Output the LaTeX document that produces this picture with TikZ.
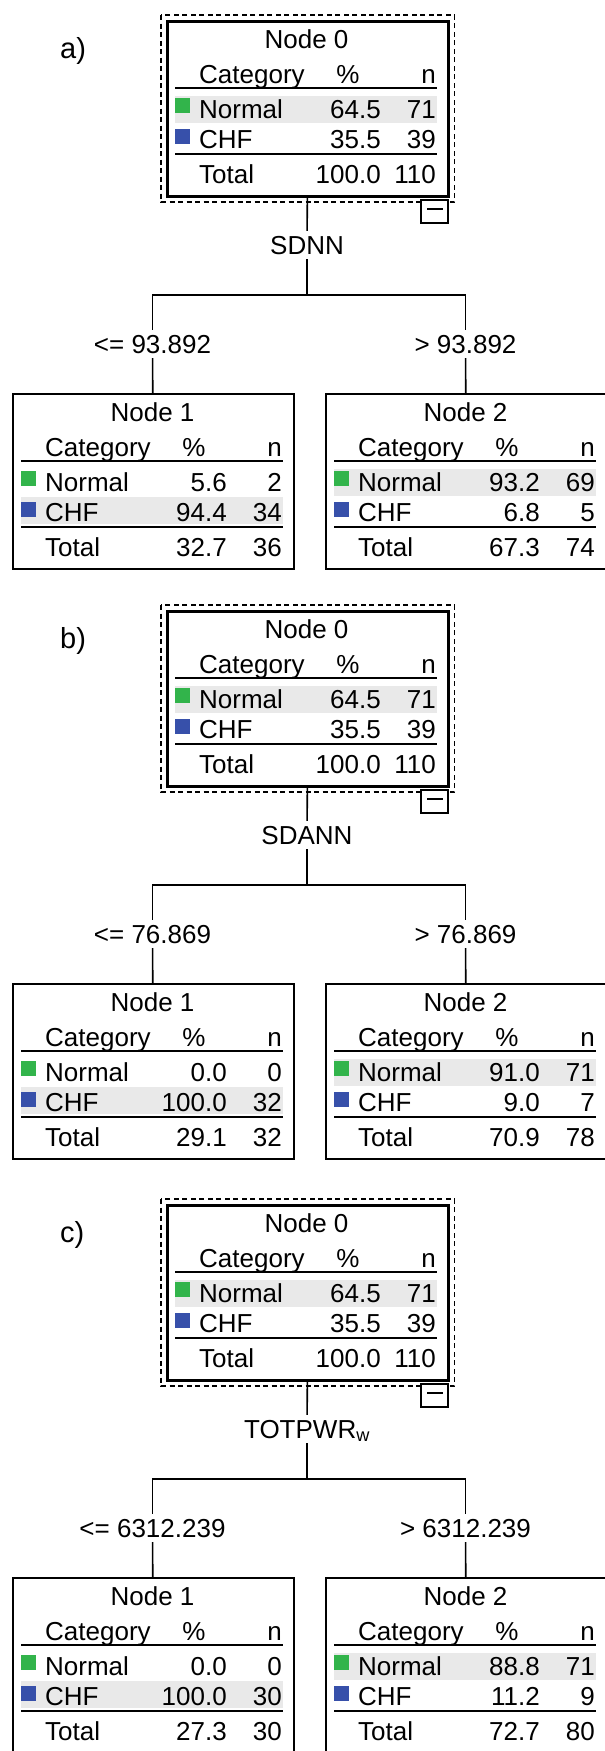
\documentclass[tikz,border=0pt]{standalone}
\usepackage{fontspec}
\setmainfont{Liberation Sans}
\definecolor{verde}{RGB}{50,180,75}
\definecolor{blu}{RGB}{55,80,170}
\definecolor{grigio}{RGB}{233,233,233}

\begin{document}
\begin{tikzpicture}[x=1pt,y=-1pt,
		tx/.style={font=\fontsize{26}{30}\selectfont, inner sep=0pt},
		cella/.style={draw, anchor=north west, minimum width=281pt, minimum height=175pt, inner sep=0pt},
		riga/.style={line width=1.6pt},
		linea/.style={line width=1.6pt},
		soglia/.style={tx, inner xsep=2pt, inner ysep=5pt, text height=18pt, text depth=0pt},
		lettera/.style={font=\fontsize{29}{34}\selectfont, inner sep=0pt, anchor=west}]
		\useasboundingbox (0,0) rectangle (605,1751);

		% Riquadri dei nodi
		\foreach \id/\bx/\by/\lw/\tit/\pN/\nN/\pC/\nC/\pT/\nT/\hb in {
				a0/166/20/3pt/Node 0/64.5/71/35.5/39/100.0/110/76,
				a1/12/393/1.5pt/Node 1/5.6/2/94.4/34/32.7/36/104,
				a2/325/393/1.5pt/Node 2/93.2/69/6.8/5/67.3/74/76,
				b0/166/610/3pt/Node 0/64.5/71/35.5/39/100.0/110/76,
				b1/12/983/1.5pt/Node 1/0.0/0/100.0/32/29.1/32/104,
				b2/325/983/1.5pt/Node 2/91.0/71/9.0/7/70.9/78/76,
				c0/166/1204/3pt/Node 0/64.5/71/35.5/39/100.0/110/76,
				c1/12/1577/1.5pt/Node 1/0.0/0/100.0/30/27.3/30/104,
				c2/325/1577/1.5pt/Node 2/88.8/71/11.2/9/72.7/80/76}{
			\fill[grigio] (\bx+9,\by+\hb) rectangle (\bx+271,\by+\hb+27);
			\node[cella, line width=\lw] (\id) at (\bx,\by) {};
			\node[tx, anchor=base] (\id-t) at (\bx+140.5,\by+28) {\tit};
			\node[tx, anchor=base west] (\id-h) at (\bx+33,\by+63) {Category};
			\node[tx, anchor=base] (\id-p) at (\bx+182,\by+63) {\%};
			\node[tx, anchor=base east] (\id-n) at (\bx+270,\by+63) {n};
			\draw[riga] (\bx+9,\by+68) -- (\bx+271,\by+68);
			\fill[verde] (\bx+9,\by+78) rectangle (\bx+24,\by+93);
			\node[tx, anchor=base west] (\id-1) at (\bx+33,\by+98) {Normal};
			\node[tx, anchor=base east] (\id-1p) at (\bx+215,\by+98) {\pN};
			\node[tx, anchor=base east] (\id-1n) at (\bx+270,\by+98) {\nN};
			\fill[blu] (\bx+9,\by+109) rectangle (\bx+24,\by+124);
			\node[tx, anchor=base west] (\id-2) at (\bx+33,\by+128) {CHF};
			\node[tx, anchor=base east] (\id-2p) at (\bx+215,\by+128) {\pC};
			\node[tx, anchor=base east] (\id-2n) at (\bx+270,\by+128) {\nC};
			\draw[riga] (\bx+9,\by+134) -- (\bx+271,\by+134);
			\node[tx, anchor=base west] (\id-3) at (\bx+33,\by+163) {Total};
			\node[tx, anchor=base east] (\id-3p) at (\bx+215,\by+163) {\pT};
			\node[tx, anchor=base east] (\id-3n) at (\bx+270,\by+163) {\nT};
		}

		% Radice, variabile e soglie
		\foreach \pan/\dy/\var/\sogA/\sogB in {
				a/0/SDNN/{<= 93.892}/{> 93.892},
				b/590/SDANN/{<= 76.869}/{> 76.869},
				c/1184/{TOTPWR\textsubscript{w}}/{<= 6312.239}/{> 6312.239}}{
			\node[lettera] (\pan-lab) at (60,\dy+51) {\pan)};
			\draw[line width=1.6pt, dash pattern=on 5pt off 3.5pt] (161,\dy+15) rectangle (454.5,\dy+202);
			\draw[line width=1.5pt, fill=white] (421,\dy+200) rectangle (448,\dy+223);
			\draw[line width=1.5pt] (427,\dy+209) -- (443,\dy+209);
			\node[soglia] (\pan0s) at (307,\dy+245) {\var};
			\coordinate (\pan-bar) at (307,\dy+295);
			\node[soglia] (\pan1l) at (152.5,\dy+344) {\sogA};
			\node[soglia] (\pan2l) at (465.5,\dy+344) {\sogB};
			\draw[linea] (\pan0) -- (\pan0s);
			\draw[linea] (\pan0s) -- (\pan-bar);
			\draw[linea] (\pan1l) |- (\pan-bar) -| (\pan2l);
			\draw[linea] (\pan1l) -- (\pan1);
			\draw[linea] (\pan2l) -- (\pan2);
		}
	\end{tikzpicture}
\end{document}
